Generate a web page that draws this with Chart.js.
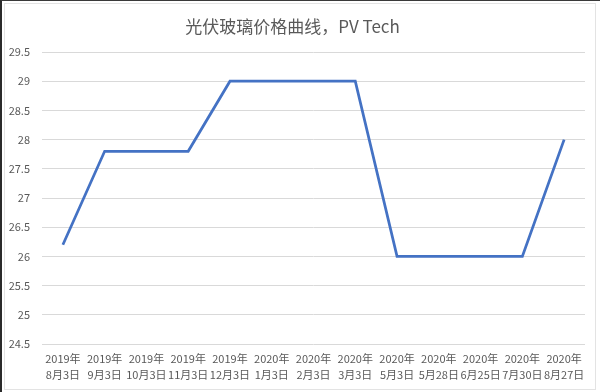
<!DOCTYPE html>
<html>
<head>
<meta charset="utf-8">
<script src="https://cdn.jsdelivr.net/npm/chart.js@4/dist/chart.umd.min.js"></script>
<style>
  html, body { margin: 0; padding: 0; background: #fff; }
  #wrap { position: relative; width: 600px; height: 392px; overflow: hidden; }
  #frameDark { position: absolute; left: 0; top: 0; width: 600px; height: 392px; box-sizing: border-box;
    border-left: 2px solid #2a2a2a; border-top: 1px solid #3a3a3a; }
  #frameLight { position: absolute; left: 4px; top: 3px; width: 592px; height: 387px; box-sizing: border-box;
    border: 1px solid #e3e3e3; }
  canvas { position: absolute; left: 0; top: 0; }
</style>
</head>
<body>
<div id="wrap">
  <div id="frameDark"></div>
  <div id="frameLight"></div>
  <canvas id="c" width="600" height="392"></canvas>
</div>
<script>
const chartTitle = '光伏玻璃价格曲线，PV Tech';
const years = ['2019年','2019年','2019年','2019年','2019年','2020年','2020年','2020年','2020年','2020年','2020年','2020年','2020年'];
const days = ['8月3日','9月3日','10月3日','11月3日','12月3日','1月3日','2月3日','3月3日','5月3日','5月28日','6月25日','7月30日','8月27日'];
const prices = [26.2, 27.8, 27.8, 27.8, 29, 29, 29, 29, 26, 26, 26, 26, 28];
const yMin = 24.5, yMax = 29.5, yStep = 0.5;

const labels = years.map((y, i) => [y, days[i]]);
const textColor = '#595959';
const fontFamily = '"Noto Sans CJK SC", "Noto Sans", sans-serif';

new Chart(document.getElementById('c'), {
  type: 'line',
  data: {
    labels: labels,
    datasets: [{
      data: prices,
      borderColor: '#4472C4',
      borderWidth: 2.75,
      pointRadius: 0,
      pointHoverRadius: 0,
      tension: 0,
      fill: false
    }]
  },
  options: {
    responsive: false,
    animation: false,
    devicePixelRatio: 1,
    layout: { padding: { left: 0, right: 15, top: 0, bottom: 0 } },
    plugins: {
      legend: { display: false },
      tooltip: { enabled: false },
      title: {
        display: true,
        text: chartTitle,
        color: textColor,
        font: { family: fontFamily, size: 17, weight: 'normal', lineHeight: 1.2 },
        padding: { top: 16, bottom: 15.6 }
      }
    },
    scales: {
      x: {
        offset: true,
        grid: { display: false, drawTicks: false },
        border: { display: false },
        ticks: {
          color: textColor,
          font: { family: fontFamily, size: 11, lineHeight: 1.45 },
          maxRotation: 0,
          minRotation: 0,
          autoSkip: false,
          padding: 7
        },
        afterFit: (s) => { s.height = 48; }
      },
      y: {
        min: yMin,
        max: yMax,
        grid: { color: '#d9d9d9', lineWidth: 1, drawTicks: false },
        border: { display: false },
        ticks: {
          stepSize: yStep,
          color: textColor,
          font: { family: fontFamily, size: 11 },
          padding: 12,
          callback: (v) => String(Math.round(v * 10) / 10)
        },
        afterFit: (s) => { s.width = 42; }
      }
    }
  }
});
</script>
</body>
</html>
